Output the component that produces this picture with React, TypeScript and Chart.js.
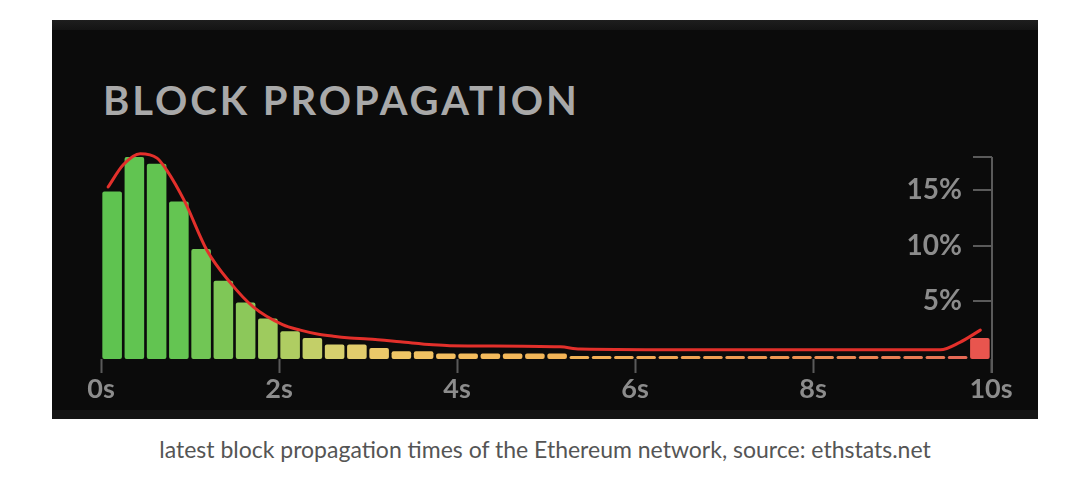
import React, { useEffect, useRef } from "react";
import { Chart, registerables } from "chart.js";

Chart.register(...registerables);

const TITLE = "BLOCK PROPAGATION";
const CAPTION = "latest block propagation times of the Ethereum network, source: ethstats.net";

// histogram bins: 40 bins of 0.25 s from 0 s to 10 s
const BIN_SECONDS = 0.25;
const BAR_VALUES = [
  14.9, 18.0, 17.4, 14.0, 9.7, 6.85, 4.9, 3.45, 2.3, 1.7,
  1.1, 1.1, 0.8, 0.5, 0.5, 0.3, 0.3, 0.3, 0.3, 0.3,
  0.3, 0.07, 0.07, 0.07, 0.07, 0.07, 0.07, 0.07, 0.07, 0.07,
  0.07, 0.07, 0.07, 0.07, 0.07, 0.07, 0.07, 0.07, 0.07, 1.7,
];

// smoothed red curve (time in s, value in %)
const CURVE_TIMES = [0.08, 0.25, 0.44, 0.63, 0.74, 0.94, 1.19, 1.45, 1.71, 2.04, 2.24, 2.43, 2.61, 2.8, 3.0, 3.36, 3.73, 3.92, 5.16, 5.38, 6.73, 8.0, 9.43, 9.65, 9.88];
const CURVE_VALUES = [15.3, 17.3, 18.3, 17.9, 16.8, 14.0, 9.6, 6.7, 4.5, 2.9, 2.4, 2.05, 1.85, 1.7, 1.6, 1.35, 1.08, 1.0, 0.9, 0.7, 0.63, 0.63, 0.63, 1.3, 2.4];

const X_TICKS = [0, 2, 4, 6, 8, 10];
const Y_TICKS = [5, 10, 15];
const Y_MIN = -0.2;
const Y_MAX = 18;

const COLOR_STOPS: [number, number[]][] = [
  [0, [95, 195, 80]],
  [3, [100, 197, 82]],
  [6, [140, 200, 90]],
  [8, [175, 205, 98]],
  [10, [215, 208, 110]],
  [12, [235, 200, 105]],
  [15, [243, 190, 95]],
  [21, [242, 178, 85]],
  [30, [238, 150, 82]],
  [37, [232, 118, 85]],
  [38, [230, 105, 85]],
  [39, [232, 85, 78]],
];

function barColor(i: number): string {
  for (let k = 0; k < COLOR_STOPS.length - 1; k++) {
    const [a, ca] = COLOR_STOPS[k];
    const [b, cb] = COLOR_STOPS[k + 1];
    if (i >= a && i <= b) {
      const t = b === a ? 0 : (i - a) / (b - a);
      const c = ca.map((v, j) => Math.round(v + (cb[j] - v) * t));
      return `rgb(${c[0]},${c[1]},${c[2]})`;
    }
  }
  const c = COLOR_STOPS[COLOR_STOPS.length - 1][1];
  return `rgb(${c[0]},${c[1]},${c[2]})`;
}

const AXIS_COLOR = "#5a5a5a";
const LABEL_COLOR = "#8c8c8c";

const axisMarks = {
  id: "axisMarks",
  beforeDatasetsDraw(chart: any) {
    const { ctx, chartArea } = chart;
    const y = chart.scales.y;
    const x = chartArea.right + 1;
    ctx.save();
    ctx.strokeStyle = AXIS_COLOR;
    ctx.lineWidth = 2;
    ctx.beginPath();
    ctx.moveTo(x, y.getPixelForValue(Y_MAX));
    ctx.lineTo(x, chartArea.bottom + 14);
    [...Y_TICKS, Y_MAX].forEach((v) => {
      const py = Math.round(y.getPixelForValue(v));
      ctx.moveTo(x - 19, py);
      ctx.lineTo(x, py);
    });
    ctx.stroke();
    ctx.restore();
  },
};

function BlockChart() {
  const ref = useRef<HTMLCanvasElement>(null);
  useEffect(() => {
    if (!ref.current) return;
    const chart = new Chart(ref.current, {
      type: "bar",
      data: {
        datasets: [
          {
            type: "line",
            data: CURVE_TIMES.map((t, i) => ({ x: t, y: CURVE_VALUES[i] })),
            borderColor: "#e3302b",
            borderWidth: 3,
            pointRadius: 0,
            cubicInterpolationMode: "monotone",
            fill: false,
            borderCapStyle: "round",
            order: 1,
            clip: false,
          } as any,
          {
            type: "bar",
            data: BAR_VALUES.map((v, i) => ({ x: (i + 0.5) * BIN_SECONDS, y: v })),
            backgroundColor: BAR_VALUES.map((_, i) => barColor(i)),
            base: Y_MIN,
            barPercentage: 0.88,
            categoryPercentage: 1,
            borderRadius: 2,
            borderSkipped: false,
            order: 2,
            clip: false,
          } as any,
        ],
      },
      options: {
        animation: false,
        responsive: true,
        maintainAspectRatio: false,
        layout: { padding: { left: 49, right: 37, top: 137, bottom: 10 } },
        plugins: {
          legend: { display: false },
          tooltip: { enabled: false },
          title: { display: false },
        },
        scales: {
          x: {
            type: "linear",
            min: 0,
            max: 10,
            offset: false,
            afterBuildTicks: (s: any) => {
              s.ticks = X_TICKS.map((v) => ({ value: v }));
            },
            ticks: {
              callback: (v: any) => `${v}s`,
              color: LABEL_COLOR,
              font: { family: "Lato", weight: "bold", size: 27 },
              padding: 0,
              maxRotation: 0,
              autoSkip: false,
            },
            grid: {
              display: true,
              drawOnChartArea: false,
              drawTicks: true,
              tickLength: 14,
              tickColor: AXIS_COLOR,
              tickWidth: 2,
              offset: false,
            },
            border: { display: false },
            afterFit: (s: any) => {
              s.height = 50;
            },
          } as any,
          y: {
            type: "linear",
            position: "right",
            min: Y_MIN,
            max: Y_MAX,
            afterBuildTicks: (s: any) => {
              s.ticks = Y_TICKS.map((v) => ({ value: v }));
            },
            ticks: {
              mirror: true,
              padding: -29,
              callback: (v: any) => `${v}%`,
              color: LABEL_COLOR,
              font: { family: "Lato", weight: "bold", size: 28 },
            },
            grid: { display: false },
            border: { display: false },
            afterFit: (s: any) => {
              s.width = 10;
            },
          } as any,
        },
      },
      plugins: [axisMarks],
    });
    return () => chart.destroy();
  }, []);
  return <canvas ref={ref} />;
}

export default function App() {
  return (
    <div style={{ position: "fixed", left: 0, top: 0, width: 1080, height: 487, background: "#fff", overflow: "hidden" }}>
      <div
        style={{
          position: "absolute",
          left: 52,
          top: 20,
          width: 986,
          height: 399,
          background: "#0b0b0b",
          overflow: "hidden",
        }}
      >
        <div style={{ position: "absolute", left: 0, top: 0, width: "100%", height: 10, background: "linear-gradient(#1e1e1e, #141414)" }} />
        <div style={{ position: "absolute", left: 0, bottom: 0, width: "100%", height: 9, background: "#151515" }} />
        <div
          style={{
            position: "absolute",
            left: 51,
            top: 60,
            fontFamily: "Lato",
            fontWeight: 700,
            fontSize: 40,
            lineHeight: "40px",
            letterSpacing: "2.95px",
            color: "#a9a9a9",
            whiteSpace: "nowrap",
          }}
        >
          {TITLE}
        </div>
        <div style={{ position: "absolute", left: 0, top: 0, width: 986, height: 399 }}>
          <BlockChart />
        </div>
      </div>
      <div
        style={{
          position: "absolute",
          left: 52,
          top: 438,
          width: 986,
          textAlign: "center",
          fontFamily: "Lato",
          fontSize: 23,
          lineHeight: "23px",
          color: "#555",
          whiteSpace: "nowrap",
        }}
      >
        {CAPTION}
      </div>
    </div>
  );
}
